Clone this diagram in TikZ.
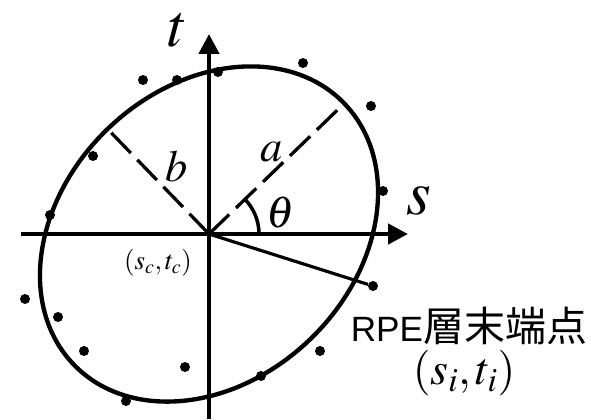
\documentclass[tikz,border=0pt]{standalone}
\usepackage{mathptmx}
\usepackage[no-math]{fontspec}
\setmainfont{Liberation Serif}
\newfontfamily\lsans{Liberation Sans}
\newfontfamily\cjk{Noto Sans CJK JP}
\usetikzlibrary{arrows.meta,calc}
\begin{document}
\begin{tikzpicture}[x=0.03cm,y=-0.03cm,
  axis/.style={line width=3.8pt,-{Triangle[length=17pt,width=17pt]}},
  fitcurve/.style={line width=3.7pt},
  semiaxis/.style={line width=2.8pt,dash pattern=on 24pt off 8pt},
  lab/.style={inner sep=0pt},
  dot/.style={circle,fill,inner sep=0pt,minimum size=8.5pt}]
\useasboundingbox (0,0) rectangle (591,419);
\coordinate (O) at (209,234);
\coordinate (sl) at (21,234);
\coordinate (sr) at (408,234);
\coordinate (tb) at (209,419);
\coordinate (tt) at (209,34);
% axes
\draw[axis] (sl) -- (sr);
\draw[axis] (tb) -- (tt);
% fitted ellipse and semi-axes
\draw[fitcurve,rotate around={44:(O)}] (O) ellipse [x radius=188,y radius=146];
\coordinate (A) at ($(O)+(-44:188)$);
\coordinate (B) at ($(O)+(-134:146)$);
\draw[semiaxis] (O) -- (A);
\draw[semiaxis] (O) -- (B);
\draw[line width=3pt] ($(O)+(50,0)$) arc[start angle=0,end angle=-44,radius=50];
% RPE points
\foreach \px/\py in {143/80,177/80,218/72,93/156,303/63,371/106,383/191,
  50/215,25/299,58/317,84/351,185/367,126/401,261/376,320/351}
  \fill (\px,\py) circle[radius=5];
\node[dot] (P) at (373,286) {};
\draw[line width=2.7pt] (O) -- (P);
% labels
\node[lab] (tlab) at (178,30) {\fontsize{52}{52}\selectfont $t$};
\node[lab] (slab) at (419,201) {\fontsize{54}{54}\selectfont $s$};
\node[lab] (alab) at (272,152) {\fontsize{38}{38}\selectfont $a$};
\node[lab] (blab) at (177,166) {\fontsize{38}{38}\selectfont $b$};
\node[lab] (thlab) at (281,213) {\fontsize{38}{38}\selectfont $\theta$};
\node[lab] (clab) at (158,263) {\fontsize{23}{23}\selectfont $(s_c,t_c)$};
\node[lab] (rpe) at (469,326) {\lsans\fontsize{30}{30}\selectfont RPE\cjk\fontsize{35}{35}\selectfont 層末端点};
\node[lab] (ilab) at (464,373) {\fontsize{39}{39}\selectfont $(s_i,t_i)$};
\end{tikzpicture}
\end{document}
